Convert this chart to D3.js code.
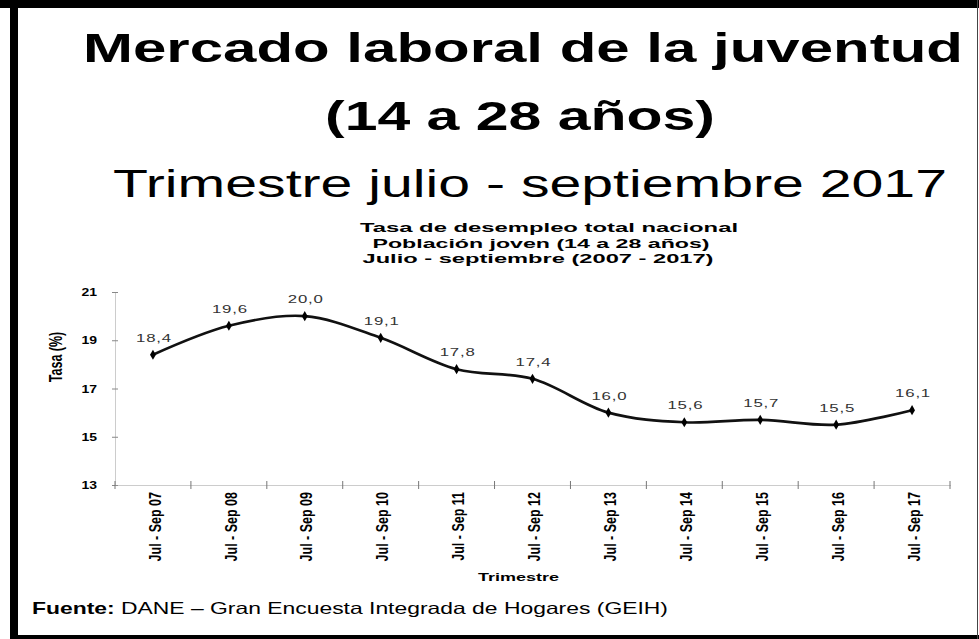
<!DOCTYPE html>
<html>
<head>
<meta charset="utf-8">
<script src="https://cdn.jsdelivr.net/npm/d3@7"></script>
<style>
  html, body { margin: 0; padding: 0; background: #fff; }
  svg { display: block; }
  text { font-family: "Liberation Sans", Arial, Helvetica, sans-serif; }
</style>
</head>
<body>
<svg id="chart" width="979" height="639"></svg>
<script>
// Quarterly youth unemployment rate, July-September, 2007-2017
const periods = ["Jul - Sep 07", "Jul - Sep 08", "Jul - Sep 09", "Jul - Sep 10", "Jul - Sep 11",
                 "Jul - Sep 12", "Jul - Sep 13", "Jul - Sep 14", "Jul - Sep 15", "Jul - Sep 16", "Jul - Sep 17"];
const rates = [18.4, 19.6, 20.0, 19.1, 17.8, 17.4, 16.0, 15.6, 15.7, 15.5, 16.1];
const yTicks = [13, 15, 17, 19, 21];
const yDomain = [13, 21];

const headingLines = ["Mercado laboral de la juventud", "(14 a 28 años)", "Trimestre julio - septiembre 2017"];
const chartTitleLines = ["Tasa de desempleo total nacional", "Población joven (14 a 28 años)", "Julio - septiembre (2007 - 2017)"];
const yAxisTitle = "Tasa (%)";
const xAxisTitle = "Trimestre";
const sourceLabel = "Fuente:";
const sourceText = " DANE \u2013 Gran Encuesta Integrada de Hogares (GEIH)";

const svg = d3.select("#chart");
const fmt = v => d3.format(".1f")(v).replace(".", ",");

// page frame
svg.append("rect").attr("x", 0).attr("y", 0).attr("width", 979).attr("height", 639).attr("fill", "#fff");
svg.append("rect").attr("x", 0).attr("y", 0).attr("width", 979).attr("height", 8).attr("fill", "#000");
svg.append("rect").attr("x", 10).attr("y", 0).attr("width", 8).attr("height", 639).attr("fill", "#000");
svg.append("rect").attr("x", 10).attr("y", 635).attr("width", 969).attr("height", 4).attr("fill", "#000");
svg.append("line").attr("x1", 977.5).attr("x2", 977.5).attr("y1", 0).attr("y2", 639)
  .attr("stroke", "#444").attr("stroke-width", 1);

// headings
const headingSpec = [
  { cx: 523, y: 62, w: 880, size: 41, weight: "bold" },
  { cx: 520, y: 130, w: 390, size: 41, weight: "bold" },
  { cx: 530, y: 197, w: 834, size: 38, weight: "normal" }
];
headingLines.forEach((t, i) => {
  const s = headingSpec[i];
  svg.append("text")
    .attr("x", s.cx).attr("y", s.y)
    .attr("text-anchor", "middle")
    .attr("font-size", s.size).attr("font-weight", s.weight)
    .attr("textLength", s.w).attr("lengthAdjust", "spacingAndGlyphs")
    .attr("fill", "#000")
    .text(t);
});

// chart title block
const chartTitleSpec = [
  { cx: 549, y: 232, w: 378 },
  { cx: 541, y: 248, w: 337 },
  { cx: 538, y: 263, w: 351 }
];
chartTitleLines.forEach((t, i) => {
  const s = chartTitleSpec[i];
  svg.append("text")
    .attr("x", s.cx).attr("y", s.y)
    .attr("text-anchor", "middle")
    .attr("font-size", 13).attr("font-weight", "bold")
    .attr("textLength", s.w).attr("lengthAdjust", "spacingAndGlyphs")
    .text(t);
});

// scales
const x = d3.scaleBand().domain(periods).range([115, 950]).padding(0);
const y = d3.scaleLinear().domain(yDomain).range([485, 292]);
const cx = d => x(d) + x.bandwidth() / 2;

// y axis
const yAxis = svg.append("g")
  .attr("transform", "translate(115,0)")
  .call(d3.axisLeft(y).tickValues(yTicks).tickSizeOuter(0).tickSizeInner(3));
yAxis.select(".domain").attr("stroke", "#999").attr("stroke-dasharray", "1,1");
yAxis.selectAll(".tick line").attr("x1", -3).attr("x2", 3).attr("stroke", "#888");
yAxis.selectAll(".tick text")
  .attr("x", -18 / 1.4).attr("dy", "0.35em")
  .attr("transform", "scale(1.4,1)")
  .attr("font-size", 10).attr("font-weight", "bold")
  .attr("font-family", "Liberation Sans, Arial, sans-serif")
  .attr("fill", "#000");

// x axis line and category boundary ticks
const xAxis = svg.append("g")
  .attr("transform", "translate(0,485)")
  .call(d3.axisBottom(x).tickSize(0).tickFormat(""));
xAxis.select(".domain").attr("stroke", "#999").attr("stroke-dasharray", "1,1");
const bounds = periods.map(p => x(p)).concat([x.range()[1]]);
svg.append("g").selectAll("line").data(bounds).join("line")
  .attr("x1", d => d).attr("x2", d => d)
  .attr("y1", 481).attr("y2", 489)
  .attr("stroke", "#777").attr("stroke-width", 1);

// rotated period labels
svg.append("g").selectAll("text").data(periods).join("text")
  .attr("transform", d => `translate(${cx(d) + 2},492) scale(1.3,1) rotate(-90)`)
  .attr("text-anchor", "end")
  .attr("dy", "0.35em")
  .attr("font-size", 12.5).attr("font-weight", "bold")
  .text(d => d);

// axis titles
svg.append("text")
  .attr("transform", "translate(56,357) scale(1.45,1) rotate(-90)")
  .attr("text-anchor", "middle").attr("dy", "0.35em")
  .attr("font-size", 12.5).attr("font-weight", "bold")
  .text(yAxisTitle);
svg.append("text")
  .attr("x", 518.5).attr("y", 581)
  .attr("text-anchor", "middle")
  .attr("font-size", 11).attr("font-weight", "bold")
  .attr("textLength", 81).attr("lengthAdjust", "spacingAndGlyphs")
  .text(xAxisTitle);

// series line
const line = d3.line()
  .x((d, i) => cx(periods[i]))
  .y(d => y(d))
  .curve(d3.curveCatmullRom.alpha(0.5));
svg.append("path")
  .datum(rates)
  .attr("d", line)
  .attr("fill", "none")
  .attr("stroke", "#111")
  .attr("stroke-width", 2.6)
  .attr("stroke-linejoin", "round");

// markers
svg.append("g").selectAll("path").data(rates).join("path")
  .attr("transform", (d, i) => `translate(${cx(periods[i])},${y(d)})`)
  .attr("d", d3.symbol(d3.symbolDiamond, 30))
  .attr("fill", "#000");

// value labels
svg.append("g").selectAll("text").data(rates).join("text")
  .attr("transform", (d, i) => `translate(${cx(periods[i]) + 1},${y(d) - 13}) scale(1.6,1)`)
  .attr("text-anchor", "middle")
  .attr("font-size", 10.5)
  .attr("letter-spacing", 0.5)
  .attr("fill", "#333")
  .text(d => fmt(d));

// source note
const src = svg.append("text")
  .attr("x", 32).attr("y", 614)
  .attr("font-size", 16.5)
  .attr("textLength", 636).attr("lengthAdjust", "spacingAndGlyphs");
src.append("tspan").attr("font-weight", "bold").text(sourceLabel);
src.append("tspan").text(sourceText);
</script>
</body>
</html>
